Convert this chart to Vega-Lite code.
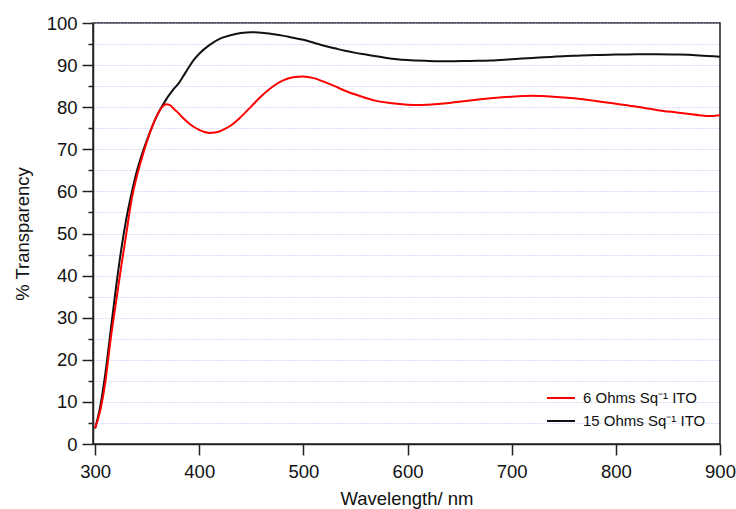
{
  "$schema": "https://vega.github.io/schema/vega-lite/v6.json",
  "width": 627,
  "height": 421,
  "autosize": "none",
  "padding": {"left": 93, "top": 23, "right": 16, "bottom": 65},
  "background": "white",
  "config": {
    "view": {"stroke": "#222222", "strokeWidth": 1.5},
    "font": "Liberation Sans"
  },
  "data": {
    "values": [
      {"wl": 300, "t": 3.7, "s": "15 Ohms Sq⁻¹ ITO"},
      {"wl": 305, "t": 9, "s": "15 Ohms Sq⁻¹ ITO"},
      {"wl": 310, "t": 17, "s": "15 Ohms Sq⁻¹ ITO"},
      {"wl": 315, "t": 27, "s": "15 Ohms Sq⁻¹ ITO"},
      {"wl": 320, "t": 37, "s": "15 Ohms Sq⁻¹ ITO"},
      {"wl": 325, "t": 46, "s": "15 Ohms Sq⁻¹ ITO"},
      {"wl": 330, "t": 53.5, "s": "15 Ohms Sq⁻¹ ITO"},
      {"wl": 335, "t": 59.5, "s": "15 Ohms Sq⁻¹ ITO"},
      {"wl": 340, "t": 64.7, "s": "15 Ohms Sq⁻¹ ITO"},
      {"wl": 345, "t": 68.8, "s": "15 Ohms Sq⁻¹ ITO"},
      {"wl": 350, "t": 72.3, "s": "15 Ohms Sq⁻¹ ITO"},
      {"wl": 355, "t": 75.5, "s": "15 Ohms Sq⁻¹ ITO"},
      {"wl": 360, "t": 78.3, "s": "15 Ohms Sq⁻¹ ITO"},
      {"wl": 365, "t": 80.5, "s": "15 Ohms Sq⁻¹ ITO"},
      {"wl": 370, "t": 82.5, "s": "15 Ohms Sq⁻¹ ITO"},
      {"wl": 375, "t": 84.2, "s": "15 Ohms Sq⁻¹ ITO"},
      {"wl": 380, "t": 85.6, "s": "15 Ohms Sq⁻¹ ITO"},
      {"wl": 385, "t": 87.5, "s": "15 Ohms Sq⁻¹ ITO"},
      {"wl": 390, "t": 89.5, "s": "15 Ohms Sq⁻¹ ITO"},
      {"wl": 395, "t": 91.3, "s": "15 Ohms Sq⁻¹ ITO"},
      {"wl": 400, "t": 92.7, "s": "15 Ohms Sq⁻¹ ITO"},
      {"wl": 410, "t": 94.8, "s": "15 Ohms Sq⁻¹ ITO"},
      {"wl": 420, "t": 96.3, "s": "15 Ohms Sq⁻¹ ITO"},
      {"wl": 430, "t": 97.1, "s": "15 Ohms Sq⁻¹ ITO"},
      {"wl": 440, "t": 97.6, "s": "15 Ohms Sq⁻¹ ITO"},
      {"wl": 450, "t": 97.8, "s": "15 Ohms Sq⁻¹ ITO"},
      {"wl": 460, "t": 97.7, "s": "15 Ohms Sq⁻¹ ITO"},
      {"wl": 470, "t": 97.4, "s": "15 Ohms Sq⁻¹ ITO"},
      {"wl": 480, "t": 97, "s": "15 Ohms Sq⁻¹ ITO"},
      {"wl": 490, "t": 96.5, "s": "15 Ohms Sq⁻¹ ITO"},
      {"wl": 500, "t": 96, "s": "15 Ohms Sq⁻¹ ITO"},
      {"wl": 510, "t": 95.3, "s": "15 Ohms Sq⁻¹ ITO"},
      {"wl": 520, "t": 94.6, "s": "15 Ohms Sq⁻¹ ITO"},
      {"wl": 530, "t": 94, "s": "15 Ohms Sq⁻¹ ITO"},
      {"wl": 540, "t": 93.4, "s": "15 Ohms Sq⁻¹ ITO"},
      {"wl": 550, "t": 92.9, "s": "15 Ohms Sq⁻¹ ITO"},
      {"wl": 560, "t": 92.5, "s": "15 Ohms Sq⁻¹ ITO"},
      {"wl": 570, "t": 92.1, "s": "15 Ohms Sq⁻¹ ITO"},
      {"wl": 580, "t": 91.7, "s": "15 Ohms Sq⁻¹ ITO"},
      {"wl": 590, "t": 91.4, "s": "15 Ohms Sq⁻¹ ITO"},
      {"wl": 600, "t": 91.2, "s": "15 Ohms Sq⁻¹ ITO"},
      {"wl": 620, "t": 91, "s": "15 Ohms Sq⁻¹ ITO"},
      {"wl": 640, "t": 90.9, "s": "15 Ohms Sq⁻¹ ITO"},
      {"wl": 660, "t": 91, "s": "15 Ohms Sq⁻¹ ITO"},
      {"wl": 680, "t": 91.1, "s": "15 Ohms Sq⁻¹ ITO"},
      {"wl": 700, "t": 91.4, "s": "15 Ohms Sq⁻¹ ITO"},
      {"wl": 720, "t": 91.7, "s": "15 Ohms Sq⁻¹ ITO"},
      {"wl": 740, "t": 92, "s": "15 Ohms Sq⁻¹ ITO"},
      {"wl": 760, "t": 92.2, "s": "15 Ohms Sq⁻¹ ITO"},
      {"wl": 780, "t": 92.4, "s": "15 Ohms Sq⁻¹ ITO"},
      {"wl": 800, "t": 92.5, "s": "15 Ohms Sq⁻¹ ITO"},
      {"wl": 820, "t": 92.6, "s": "15 Ohms Sq⁻¹ ITO"},
      {"wl": 840, "t": 92.6, "s": "15 Ohms Sq⁻¹ ITO"},
      {"wl": 860, "t": 92.5, "s": "15 Ohms Sq⁻¹ ITO"},
      {"wl": 880, "t": 92.3, "s": "15 Ohms Sq⁻¹ ITO"},
      {"wl": 900, "t": 92, "s": "15 Ohms Sq⁻¹ ITO"},
      {"wl": 300, "t": 3.7, "s": "6 Ohms Sq⁻¹ ITO"},
      {"wl": 305, "t": 8, "s": "6 Ohms Sq⁻¹ ITO"},
      {"wl": 310, "t": 15, "s": "6 Ohms Sq⁻¹ ITO"},
      {"wl": 315, "t": 25, "s": "6 Ohms Sq⁻¹ ITO"},
      {"wl": 320, "t": 33.5, "s": "6 Ohms Sq⁻¹ ITO"},
      {"wl": 325, "t": 42, "s": "6 Ohms Sq⁻¹ ITO"},
      {"wl": 330, "t": 50, "s": "6 Ohms Sq⁻¹ ITO"},
      {"wl": 335, "t": 58, "s": "6 Ohms Sq⁻¹ ITO"},
      {"wl": 340, "t": 63.5, "s": "6 Ohms Sq⁻¹ ITO"},
      {"wl": 345, "t": 68, "s": "6 Ohms Sq⁻¹ ITO"},
      {"wl": 350, "t": 72, "s": "6 Ohms Sq⁻¹ ITO"},
      {"wl": 355, "t": 75.5, "s": "6 Ohms Sq⁻¹ ITO"},
      {"wl": 360, "t": 78.3, "s": "6 Ohms Sq⁻¹ ITO"},
      {"wl": 365, "t": 80.2, "s": "6 Ohms Sq⁻¹ ITO"},
      {"wl": 368, "t": 80.7, "s": "6 Ohms Sq⁻¹ ITO"},
      {"wl": 372, "t": 80.5, "s": "6 Ohms Sq⁻¹ ITO"},
      {"wl": 376, "t": 79.5, "s": "6 Ohms Sq⁻¹ ITO"},
      {"wl": 380, "t": 78.6, "s": "6 Ohms Sq⁻¹ ITO"},
      {"wl": 385, "t": 77.3, "s": "6 Ohms Sq⁻¹ ITO"},
      {"wl": 390, "t": 76.2, "s": "6 Ohms Sq⁻¹ ITO"},
      {"wl": 395, "t": 75.3, "s": "6 Ohms Sq⁻¹ ITO"},
      {"wl": 400, "t": 74.6, "s": "6 Ohms Sq⁻¹ ITO"},
      {"wl": 405, "t": 74.1, "s": "6 Ohms Sq⁻¹ ITO"},
      {"wl": 410, "t": 73.9, "s": "6 Ohms Sq⁻¹ ITO"},
      {"wl": 415, "t": 74, "s": "6 Ohms Sq⁻¹ ITO"},
      {"wl": 420, "t": 74.3, "s": "6 Ohms Sq⁻¹ ITO"},
      {"wl": 425, "t": 74.9, "s": "6 Ohms Sq⁻¹ ITO"},
      {"wl": 430, "t": 75.6, "s": "6 Ohms Sq⁻¹ ITO"},
      {"wl": 440, "t": 77.7, "s": "6 Ohms Sq⁻¹ ITO"},
      {"wl": 450, "t": 80.2, "s": "6 Ohms Sq⁻¹ ITO"},
      {"wl": 460, "t": 82.7, "s": "6 Ohms Sq⁻¹ ITO"},
      {"wl": 470, "t": 84.8, "s": "6 Ohms Sq⁻¹ ITO"},
      {"wl": 480, "t": 86.3, "s": "6 Ohms Sq⁻¹ ITO"},
      {"wl": 490, "t": 87.1, "s": "6 Ohms Sq⁻¹ ITO"},
      {"wl": 500, "t": 87.3, "s": "6 Ohms Sq⁻¹ ITO"},
      {"wl": 510, "t": 86.9, "s": "6 Ohms Sq⁻¹ ITO"},
      {"wl": 520, "t": 86, "s": "6 Ohms Sq⁻¹ ITO"},
      {"wl": 530, "t": 85, "s": "6 Ohms Sq⁻¹ ITO"},
      {"wl": 540, "t": 83.9, "s": "6 Ohms Sq⁻¹ ITO"},
      {"wl": 550, "t": 83, "s": "6 Ohms Sq⁻¹ ITO"},
      {"wl": 560, "t": 82.2, "s": "6 Ohms Sq⁻¹ ITO"},
      {"wl": 570, "t": 81.5, "s": "6 Ohms Sq⁻¹ ITO"},
      {"wl": 580, "t": 81.1, "s": "6 Ohms Sq⁻¹ ITO"},
      {"wl": 590, "t": 80.8, "s": "6 Ohms Sq⁻¹ ITO"},
      {"wl": 600, "t": 80.6, "s": "6 Ohms Sq⁻¹ ITO"},
      {"wl": 610, "t": 80.5, "s": "6 Ohms Sq⁻¹ ITO"},
      {"wl": 620, "t": 80.6, "s": "6 Ohms Sq⁻¹ ITO"},
      {"wl": 640, "t": 81, "s": "6 Ohms Sq⁻¹ ITO"},
      {"wl": 660, "t": 81.6, "s": "6 Ohms Sq⁻¹ ITO"},
      {"wl": 680, "t": 82.1, "s": "6 Ohms Sq⁻¹ ITO"},
      {"wl": 700, "t": 82.5, "s": "6 Ohms Sq⁻¹ ITO"},
      {"wl": 720, "t": 82.7, "s": "6 Ohms Sq⁻¹ ITO"},
      {"wl": 740, "t": 82.5, "s": "6 Ohms Sq⁻¹ ITO"},
      {"wl": 760, "t": 82.1, "s": "6 Ohms Sq⁻¹ ITO"},
      {"wl": 780, "t": 81.5, "s": "6 Ohms Sq⁻¹ ITO"},
      {"wl": 800, "t": 80.8, "s": "6 Ohms Sq⁻¹ ITO"},
      {"wl": 820, "t": 80.1, "s": "6 Ohms Sq⁻¹ ITO"},
      {"wl": 840, "t": 79.3, "s": "6 Ohms Sq⁻¹ ITO"},
      {"wl": 860, "t": 78.7, "s": "6 Ohms Sq⁻¹ ITO"},
      {"wl": 880, "t": 78.1, "s": "6 Ohms Sq⁻¹ ITO"},
      {"wl": 890, "t": 77.9, "s": "6 Ohms Sq⁻¹ ITO"},
      {"wl": 900, "t": 78.1, "s": "6 Ohms Sq⁻¹ ITO"}
    ]
  },
  "mark": {"type": "line", "interpolate": "monotone", "strokeWidth": 2, "clip": true},
  "encoding": {
    "x": {
      "field": "wl",
      "type": "quantitative",
      "scale": {"domain": [298, 900], "nice": false, "zero": false},
      "axis": {
        "title": "Wavelength/ nm",
        "values": [300, 400, 500, 600, 700, 800, 900],
        "grid": false,
        "domainColor": "#222222",
        "domainWidth": 1.5,
        "tickColor": "#222222",
        "tickWidth": 1.5,
        "tickSize": 11,
        "labelFontSize": 18.5,
        "labelColor": "#111111",
        "labelPadding": 7,
        "labelFlush": false,
        "titleFontSize": 18.5,
        "titleFontWeight": "normal",
        "titleColor": "#111111",
        "titlePadding": 9
      }
    },
    "y": {
      "field": "t",
      "type": "quantitative",
      "scale": {"domain": [0, 100], "nice": false},
      "axis": {
        "title": "% Transparency",
        "values": [0, 5, 10, 15, 20, 25, 30, 35, 40, 45, 50, 55, 60, 65, 70, 75, 80, 85, 90, 95, 100],
        "labelExpr": "datum.value % 10 === 0 ? datum.label : ''",
        "grid": true,
        "gridColor": "#b8b8f5",
        "gridDash": [1, 2],
        "gridWidth": 1,
        "domainColor": "#222222",
        "domainWidth": 1.5,
        "tickColor": "#222222",
        "tickWidth": 1.5,
        "tickSize": {"condition": {"test": "datum.value % 10 === 0", "value": 11}, "value": 5},
        "labelFontSize": 18.5,
        "labelColor": "#111111",
        "labelPadding": 5,
        "labelFlush": false,
        "titleFontSize": 18.5,
        "titleFontWeight": "normal",
        "titleColor": "#111111",
        "titlePadding": 14
      }
    },
    "color": {
      "field": "s",
      "type": "nominal",
      "scale": {"domain": ["6 Ohms Sq⁻¹ ITO", "15 Ohms Sq⁻¹ ITO"], "range": ["#ff0000", "#111111"]},
      "legend": {
        "title": null,
        "orient": "none",
        "legendX": 453,
        "legendY": 360,
        "symbolType": "stroke",
        "symbolSize": 784,
        "symbolStrokeWidth": 2,
        "labelFontSize": 15,
        "labelColor": "#111111",
        "rowPadding": -4,
        "labelOffset": 7,
        "padding": 0
      }
    }
  }
}
